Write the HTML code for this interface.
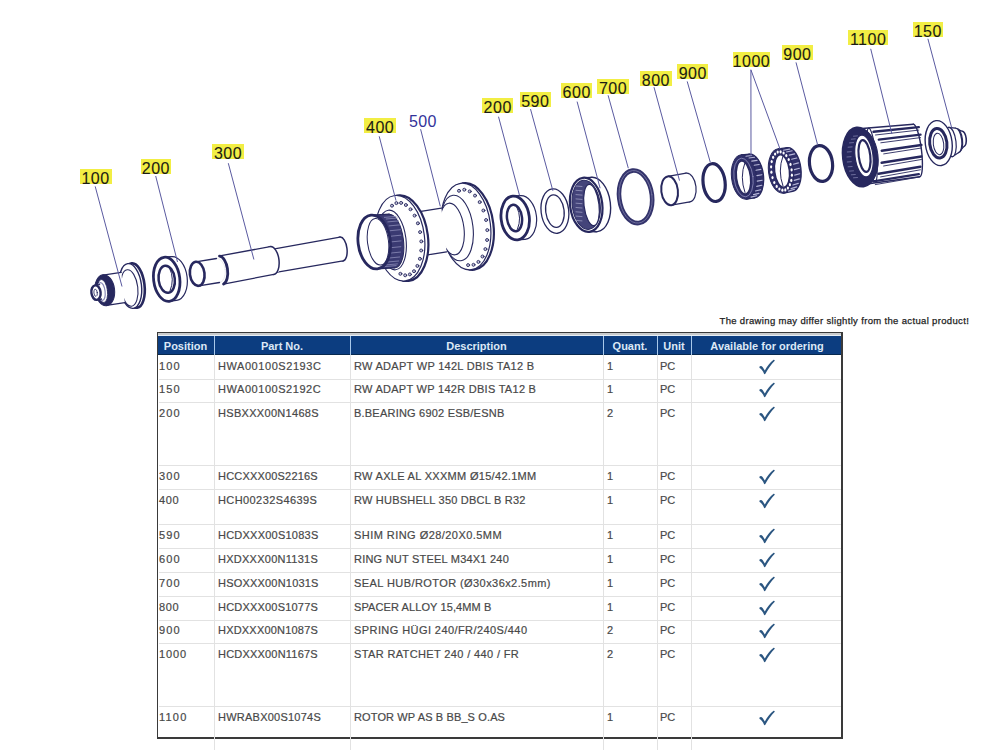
<!DOCTYPE html>
<html><head><meta charset="utf-8"><style>
html,body{margin:0;padding:0;background:#fff;}
body{width:992px;height:750px;position:relative;overflow:hidden;font-family:"Liberation Sans",sans-serif;}
.a{position:absolute;}
.t{position:absolute;font-size:11px;line-height:11px;color:#484848;white-space:nowrap;-webkit-text-stroke:0.2px #4a4a4a;}
.h{position:absolute;font-size:11px;line-height:11px;color:#dce8f6;font-weight:bold;white-space:nowrap;text-align:center;}
.ln{position:absolute;background:#e2e2e2;}
.lab{position:absolute;background:#f2ee44;font-size:16px;line-height:19px;color:#1c1c14;letter-spacing:0.5px;-webkit-text-stroke:0.1px #1c1c14;text-align:center;}
</style></head><body>

<div class="a" style="left:157px;top:332px;width:686px;height:407px;border:1px solid #3a3a3a;box-sizing:border-box;border-right-width:2px;border-bottom-width:2px"></div>
<div class="a" style="left:158px;top:333px;width:683px;height:2px;background:#c9cbcc"></div>
<div class="a" style="left:158px;top:335px;width:683px;height:1px;background:#e6eef6"></div>
<div class="a" style="left:158px;top:336px;width:683px;height:19px;background:#0c3d80;border-bottom:1px solid #07294f;box-sizing:border-box"></div>
<div class="a" style="left:214px;top:336px;width:1px;height:19px;background:#a8c8ea"></div>
<div class="ln" style="left:214px;top:355px;width:1px;height:395px;"></div>
<div class="a" style="left:350px;top:336px;width:1px;height:19px;background:#a8c8ea"></div>
<div class="ln" style="left:350px;top:355px;width:1px;height:395px;"></div>
<div class="a" style="left:603px;top:336px;width:1px;height:19px;background:#a8c8ea"></div>
<div class="ln" style="left:603px;top:355px;width:1px;height:395px;"></div>
<div class="a" style="left:657px;top:336px;width:1px;height:19px;background:#a8c8ea"></div>
<div class="ln" style="left:657px;top:355px;width:1px;height:395px;"></div>
<div class="a" style="left:691px;top:336px;width:1px;height:19px;background:#a8c8ea"></div>
<div class="ln" style="left:691px;top:355px;width:1px;height:395px;"></div>
<div class="ln" style="left:159px;top:379px;width:682px;height:1px;"></div>
<div class="ln" style="left:159px;top:402px;width:682px;height:1px;"></div>
<div class="ln" style="left:159px;top:465px;width:682px;height:1px;"></div>
<div class="ln" style="left:159px;top:489px;width:682px;height:1px;"></div>
<div class="ln" style="left:159px;top:524px;width:682px;height:1px;"></div>
<div class="ln" style="left:159px;top:548px;width:682px;height:1px;"></div>
<div class="ln" style="left:159px;top:572px;width:682px;height:1px;"></div>
<div class="ln" style="left:159px;top:596px;width:682px;height:1px;"></div>
<div class="ln" style="left:159px;top:620px;width:682px;height:1px;"></div>
<div class="ln" style="left:159px;top:643px;width:682px;height:1px;"></div>
<div class="ln" style="left:159px;top:706px;width:682px;height:1px;"></div>
<div class="h" style="left:157px;width:57px;top:341px">Position</div>
<div class="h" style="left:214px;width:136px;top:341px">Part No.</div>
<div class="h" style="left:350px;width:253px;top:341px">Description</div>
<div class="h" style="left:603px;width:54px;top:341px">Quant.</div>
<div class="h" style="left:657px;width:34px;top:341px">Unit</div>
<div class="h" style="left:691px;width:152px;top:341px">Available for ordering</div>
<div class="t" style="left:159px;top:361px;letter-spacing:1.15px">100</div>
<div class="t" style="left:218px;top:361px;letter-spacing:0.562px">HWA00100S2193C</div>
<div class="t" style="left:354px;top:361px;letter-spacing:0.289px">RW ADAPT WP 142L DBIS TA12 B</div>
<div class="t" style="left:607px;top:361px">1</div>
<div class="t" style="left:660px;top:361px">PC</div>
<svg class="a" style="left:759px;top:359px" width="18" height="17" viewBox="0 0 18 17"><path d="M0.6,7.5 C1.4,6.6 2.8,6.8 3.8,8.3 L5.8,11.6 C8.3,6.9 11.1,3.4 14.3,1.0 C15.2,0.4 16.2,1.3 15.5,2.1 C12.4,5.2 9.4,9.4 6.5,14.6 C6.1,15.3 5.2,15.3 4.9,14.6 C4,12.2 2.7,10.3 1.1,9.3 C0.4,8.9 0.2,8.1 0.6,7.5 Z" fill="#2b5681"/></svg>
<div class="t" style="left:159px;top:384px;letter-spacing:1.15px">150</div>
<div class="t" style="left:218px;top:384px;letter-spacing:0.546px">HWA00100S2192C</div>
<div class="t" style="left:354px;top:384px;letter-spacing:0.278px">RW ADAPT WP 142R DBIS TA12 B</div>
<div class="t" style="left:607px;top:384px">1</div>
<div class="t" style="left:660px;top:384px">PC</div>
<svg class="a" style="left:759px;top:382px" width="18" height="17" viewBox="0 0 18 17"><path d="M0.6,7.5 C1.4,6.6 2.8,6.8 3.8,8.3 L5.8,11.6 C8.3,6.9 11.1,3.4 14.3,1.0 C15.2,0.4 16.2,1.3 15.5,2.1 C12.4,5.2 9.4,9.4 6.5,14.6 C6.1,15.3 5.2,15.3 4.9,14.6 C4,12.2 2.7,10.3 1.1,9.3 C0.4,8.9 0.2,8.1 0.6,7.5 Z" fill="#2b5681"/></svg>
<div class="t" style="left:159px;top:408px;letter-spacing:1.15px">200</div>
<div class="t" style="left:218px;top:408px;letter-spacing:0.308px">HSBXXX00N1468S</div>
<div class="t" style="left:354px;top:408px;letter-spacing:0.214px">B.BEARING 6902 ESB/ESNB</div>
<div class="t" style="left:607px;top:408px">2</div>
<div class="t" style="left:660px;top:408px">PC</div>
<svg class="a" style="left:759px;top:406px" width="18" height="17" viewBox="0 0 18 17"><path d="M0.6,7.5 C1.4,6.6 2.8,6.8 3.8,8.3 L5.8,11.6 C8.3,6.9 11.1,3.4 14.3,1.0 C15.2,0.4 16.2,1.3 15.5,2.1 C12.4,5.2 9.4,9.4 6.5,14.6 C6.1,15.3 5.2,15.3 4.9,14.6 C4,12.2 2.7,10.3 1.1,9.3 C0.4,8.9 0.2,8.1 0.6,7.5 Z" fill="#2b5681"/></svg>
<div class="t" style="left:159px;top:471px;letter-spacing:1.15px">300</div>
<div class="t" style="left:218px;top:471px;letter-spacing:0.185px">HCCXXX00S2216S</div>
<div class="t" style="left:354px;top:471px;letter-spacing:0.308px">RW AXLE AL XXXMM &Oslash;15/42.1MM</div>
<div class="t" style="left:607px;top:471px">1</div>
<div class="t" style="left:660px;top:471px">PC</div>
<svg class="a" style="left:759px;top:469px" width="18" height="17" viewBox="0 0 18 17"><path d="M0.6,7.5 C1.4,6.6 2.8,6.8 3.8,8.3 L5.8,11.6 C8.3,6.9 11.1,3.4 14.3,1.0 C15.2,0.4 16.2,1.3 15.5,2.1 C12.4,5.2 9.4,9.4 6.5,14.6 C6.1,15.3 5.2,15.3 4.9,14.6 C4,12.2 2.7,10.3 1.1,9.3 C0.4,8.9 0.2,8.1 0.6,7.5 Z" fill="#2b5681"/></svg>
<div class="t" style="left:159px;top:495px;letter-spacing:0.65px">400</div>
<div class="t" style="left:218px;top:495px;letter-spacing:0.408px">HCH00232S4639S</div>
<div class="t" style="left:354px;top:495px;letter-spacing:0.22px">RW HUBSHELL 350 DBCL B R32</div>
<div class="t" style="left:607px;top:495px">1</div>
<div class="t" style="left:660px;top:495px">PC</div>
<svg class="a" style="left:759px;top:493px" width="18" height="17" viewBox="0 0 18 17"><path d="M0.6,7.5 C1.4,6.6 2.8,6.8 3.8,8.3 L5.8,11.6 C8.3,6.9 11.1,3.4 14.3,1.0 C15.2,0.4 16.2,1.3 15.5,2.1 C12.4,5.2 9.4,9.4 6.5,14.6 C6.1,15.3 5.2,15.3 4.9,14.6 C4,12.2 2.7,10.3 1.1,9.3 C0.4,8.9 0.2,8.1 0.6,7.5 Z" fill="#2b5681"/></svg>
<div class="t" style="left:159px;top:530px;letter-spacing:1.15px">590</div>
<div class="t" style="left:218px;top:530px;letter-spacing:0.231px">HCDXXX00S1083S</div>
<div class="t" style="left:354px;top:530px;letter-spacing:0.452px">SHIM RING &Oslash;28/20X0.5MM</div>
<div class="t" style="left:607px;top:530px">1</div>
<div class="t" style="left:660px;top:530px">PC</div>
<svg class="a" style="left:759px;top:528px" width="18" height="17" viewBox="0 0 18 17"><path d="M0.6,7.5 C1.4,6.6 2.8,6.8 3.8,8.3 L5.8,11.6 C8.3,6.9 11.1,3.4 14.3,1.0 C15.2,0.4 16.2,1.3 15.5,2.1 C12.4,5.2 9.4,9.4 6.5,14.6 C6.1,15.3 5.2,15.3 4.9,14.6 C4,12.2 2.7,10.3 1.1,9.3 C0.4,8.9 0.2,8.1 0.6,7.5 Z" fill="#2b5681"/></svg>
<div class="t" style="left:159px;top:554px;letter-spacing:1.15px">600</div>
<div class="t" style="left:218px;top:554px;letter-spacing:0.262px">HXDXXX00N1131S</div>
<div class="t" style="left:354px;top:554px;letter-spacing:0.217px">RING NUT STEEL M34X1 240</div>
<div class="t" style="left:607px;top:554px">1</div>
<div class="t" style="left:660px;top:554px">PC</div>
<svg class="a" style="left:759px;top:552px" width="18" height="17" viewBox="0 0 18 17"><path d="M0.6,7.5 C1.4,6.6 2.8,6.8 3.8,8.3 L5.8,11.6 C8.3,6.9 11.1,3.4 14.3,1.0 C15.2,0.4 16.2,1.3 15.5,2.1 C12.4,5.2 9.4,9.4 6.5,14.6 C6.1,15.3 5.2,15.3 4.9,14.6 C4,12.2 2.7,10.3 1.1,9.3 C0.4,8.9 0.2,8.1 0.6,7.5 Z" fill="#2b5681"/></svg>
<div class="t" style="left:159px;top:578px;letter-spacing:1.15px">700</div>
<div class="t" style="left:218px;top:578px;letter-spacing:0.2px">HSOXXX00N1031S</div>
<div class="t" style="left:354px;top:578px;letter-spacing:0.425px">SEAL HUB/ROTOR (&Oslash;30x36x2.5mm)</div>
<div class="t" style="left:607px;top:578px">1</div>
<div class="t" style="left:660px;top:578px">PC</div>
<svg class="a" style="left:759px;top:576px" width="18" height="17" viewBox="0 0 18 17"><path d="M0.6,7.5 C1.4,6.6 2.8,6.8 3.8,8.3 L5.8,11.6 C8.3,6.9 11.1,3.4 14.3,1.0 C15.2,0.4 16.2,1.3 15.5,2.1 C12.4,5.2 9.4,9.4 6.5,14.6 C6.1,15.3 5.2,15.3 4.9,14.6 C4,12.2 2.7,10.3 1.1,9.3 C0.4,8.9 0.2,8.1 0.6,7.5 Z" fill="#2b5681"/></svg>
<div class="t" style="left:159px;top:602px;letter-spacing:0.65px">800</div>
<div class="t" style="left:218px;top:602px;letter-spacing:0.2px">HCDXXX00S1077S</div>
<div class="t" style="left:354px;top:602px;letter-spacing:0.1px">SPACER ALLOY 15,4MM B</div>
<div class="t" style="left:607px;top:602px">1</div>
<div class="t" style="left:660px;top:602px">PC</div>
<svg class="a" style="left:759px;top:600px" width="18" height="17" viewBox="0 0 18 17"><path d="M0.6,7.5 C1.4,6.6 2.8,6.8 3.8,8.3 L5.8,11.6 C8.3,6.9 11.1,3.4 14.3,1.0 C15.2,0.4 16.2,1.3 15.5,2.1 C12.4,5.2 9.4,9.4 6.5,14.6 C6.1,15.3 5.2,15.3 4.9,14.6 C4,12.2 2.7,10.3 1.1,9.3 C0.4,8.9 0.2,8.1 0.6,7.5 Z" fill="#2b5681"/></svg>
<div class="t" style="left:159px;top:625px;letter-spacing:1.15px">900</div>
<div class="t" style="left:218px;top:625px;letter-spacing:0.2px">HXDXXX00N1087S</div>
<div class="t" style="left:354px;top:625px;letter-spacing:0.423px">SPRING H&Uuml;GI 240/FR/240S/440</div>
<div class="t" style="left:607px;top:625px">2</div>
<div class="t" style="left:660px;top:625px">PC</div>
<svg class="a" style="left:759px;top:623px" width="18" height="17" viewBox="0 0 18 17"><path d="M0.6,7.5 C1.4,6.6 2.8,6.8 3.8,8.3 L5.8,11.6 C8.3,6.9 11.1,3.4 14.3,1.0 C15.2,0.4 16.2,1.3 15.5,2.1 C12.4,5.2 9.4,9.4 6.5,14.6 C6.1,15.3 5.2,15.3 4.9,14.6 C4,12.2 2.7,10.3 1.1,9.3 C0.4,8.9 0.2,8.1 0.6,7.5 Z" fill="#2b5681"/></svg>
<div class="t" style="left:159px;top:649px;letter-spacing:0.867px">1000</div>
<div class="t" style="left:218px;top:649px;letter-spacing:0.2px">HCDXXX00N1167S</div>
<div class="t" style="left:354px;top:649px;letter-spacing:0.365px">STAR RATCHET 240 / 440 / FR</div>
<div class="t" style="left:607px;top:649px">2</div>
<div class="t" style="left:660px;top:649px">PC</div>
<svg class="a" style="left:759px;top:647px" width="18" height="17" viewBox="0 0 18 17"><path d="M0.6,7.5 C1.4,6.6 2.8,6.8 3.8,8.3 L5.8,11.6 C8.3,6.9 11.1,3.4 14.3,1.0 C15.2,0.4 16.2,1.3 15.5,2.1 C12.4,5.2 9.4,9.4 6.5,14.6 C6.1,15.3 5.2,15.3 4.9,14.6 C4,12.2 2.7,10.3 1.1,9.3 C0.4,8.9 0.2,8.1 0.6,7.5 Z" fill="#2b5681"/></svg>
<div class="t" style="left:159px;top:712px;letter-spacing:1.2px">1100</div>
<div class="t" style="left:218px;top:712px;letter-spacing:0.238px">HWRABX00S1074S</div>
<div class="t" style="left:354px;top:712px;letter-spacing:0.127px">ROTOR WP AS B BB_S O.AS</div>
<div class="t" style="left:607px;top:712px">1</div>
<div class="t" style="left:660px;top:712px">PC</div>
<svg class="a" style="left:759px;top:710px" width="18" height="17" viewBox="0 0 18 17"><path d="M0.6,7.5 C1.4,6.6 2.8,6.8 3.8,8.3 L5.8,11.6 C8.3,6.9 11.1,3.4 14.3,1.0 C15.2,0.4 16.2,1.3 15.5,2.1 C12.4,5.2 9.4,9.4 6.5,14.6 C6.1,15.3 5.2,15.3 4.9,14.6 C4,12.2 2.7,10.3 1.1,9.3 C0.4,8.9 0.2,8.1 0.6,7.5 Z" fill="#2b5681"/></svg>
<div class="a" style="left:719.5px;top:314.5px;font-size:9.5px;line-height:11px;color:#222;white-space:nowrap;letter-spacing:0.34px;-webkit-text-stroke:0.25px #222">The drawing may differ slightly from the actual product!</div>
<svg class="a" style="left:0;top:0" width="992" height="330" viewBox="0 0 992 330">
<g stroke-linecap="round">
<ellipse cx="134.5" cy="285.5" rx="10" ry="22.3" transform="rotate(-7 134.5 285.5)" fill="#fff" stroke="#27285e" stroke-width="2.6" />
<path d="M127.9,263.6 L132,263.3 L137,307.7 L133.1,308.4 Z" fill="#fff" stroke="none"/>
<path d="M127.9,263.6 L132,263.3 M133.1,308.4 L137,307.7" stroke="#27285e" stroke-width="1.2" fill="none"/>
<ellipse cx="130.5" cy="286" rx="11" ry="22.5" transform="rotate(-7 130.5 286)" fill="#fff" stroke="#27285e" stroke-width="1.4" />
<ellipse cx="129.4" cy="288" rx="8.4" ry="18.4" transform="rotate(-7 129.4 288)" fill="#fff" stroke="#27285e" stroke-width="1.1" />
<path d="M103,275.1 L121.2,272.4 L124.8,302.6 L106.6,305.3 Z" fill="#fff" stroke="none"/>
<path d="M103,275.1 L121.2,272.4 M106.6,305.3 L124.8,302.6" stroke="#27285e" stroke-width="1.2" fill="none"/>
<ellipse cx="104.8" cy="290.2" rx="9.8" ry="15.6" transform="rotate(-7 104.8 290.2)" fill="#27285e" stroke="#27285e" stroke-width="1" />
<ellipse cx="102.6" cy="291" rx="4.9" ry="11.6" transform="rotate(-7 102.6 291)" fill="#fff" stroke="#27285e" stroke-width="0.8" />
<ellipse cx="101.5" cy="291.5" rx="3.6" ry="9" transform="rotate(-7 101.5 291.5)" fill="none" stroke="#8a8ab8" stroke-width="1.2" />
<path d="M95.1,285.4 L99.6,284.6 L101.4,299 L96.9,299.8 Z" fill="#fff" stroke="none"/>
<path d="M95.1,285.4 L99.6,284.6 M96.9,299.8 L101.4,299" stroke="#27285e" stroke-width="1.3" fill="none"/>
<ellipse cx="96" cy="292.6" rx="4.6" ry="7.3" transform="rotate(-7 96 292.6)" fill="#fff" stroke="#27285e" stroke-width="2.4" />
<ellipse cx="95.6" cy="292.8" rx="1.7" ry="3.6" transform="rotate(-7 95.6 292.8)" fill="#fff" stroke="#27285e" stroke-width="0.8" />
<ellipse cx="174" cy="278.5" rx="13.2" ry="22" transform="rotate(-7 174 278.5)" fill="#fff" stroke="#27285e" stroke-width="1.2" />
<path d="M164.3,257.2 L171.7,256.6 L176.3,300.4 L169.1,301.4 Z" fill="#fff" stroke="none"/>
<path d="M164.3,257.2 L171.7,256.6 M169.1,301.4 L176.3,300.4" stroke="#27285e" stroke-width="1.2" fill="none"/>
<ellipse cx="166.7" cy="279.3" rx="13.1" ry="22.2" transform="rotate(-7 166.7 279.3)" fill="#fff" stroke="#27285e" stroke-width="2.8" />
<ellipse cx="166.7" cy="279.3" rx="8.1" ry="13.6" transform="rotate(-7 166.7 279.3)" fill="#fff" stroke="#27285e" stroke-width="2.5" />
<path d="M169.5,268 Q175,279 170,291" stroke="#27285e" stroke-width="1" fill="none"/>
<ellipse cx="341.5" cy="249" rx="5.5" ry="12" transform="rotate(-7 341.5 249)" fill="#fff" stroke="#27285e" stroke-width="1.5" />
<path d="M274.6,248.9 L340,237.1 L343,260.9 L277.4,272.1 Z" fill="#fff" stroke="none"/>
<path d="M274.6,248.9 L340,237.1 M277.4,272.1 L343,260.9" stroke="#27285e" stroke-width="1.3" fill="none"/>
<ellipse cx="276" cy="260.5" rx="5.5" ry="11.7" transform="rotate(-7 276 260.5)" fill="#fff" stroke="#27285e" stroke-width="0.01" />
<ellipse cx="272" cy="260.5" rx="7" ry="14" transform="rotate(-7 272 260.5)" fill="#fff" stroke="#27285e" stroke-width="1.5" />
<path d="M219.8,255.9 L270.2,246.6 L273.8,274.4 L223.4,284.1 Z" fill="#fff" stroke="none"/>
<path d="M219.8,255.9 L270.2,246.6 M223.4,284.1 L273.8,274.4" stroke="#27285e" stroke-width="1.3" fill="none"/>
<ellipse cx="221.6" cy="270" rx="7" ry="14.2" transform="rotate(-7 221.6 270)" fill="#fff" stroke="#27285e" stroke-width="0.01" />
<path d="M219.5,256.2 A7,14.2 -7 0 1 223.6,284" stroke="#27285e" stroke-width="2.8" fill="none"/>
<ellipse cx="218" cy="270.5" rx="7.3" ry="12.1" transform="rotate(-7 218 270.5)" fill="#fff" stroke="#27285e" stroke-width="0.1" />
<path d="M195.7,261.8 L216.5,258.5 L219.5,282.5 L198.7,285.8 Z" fill="#fff" stroke="none"/>
<path d="M195.7,261.8 L216.5,258.5 M198.7,285.8 L219.5,282.5" stroke="#27285e" stroke-width="1.3" fill="none"/>
<ellipse cx="197.2" cy="273.8" rx="7.3" ry="12.1" transform="rotate(-7 197.2 273.8)" fill="#fff" stroke="#27285e" stroke-width="2.6" />
<ellipse cx="469" cy="226.5" rx="24.5" ry="43.5" transform="rotate(-7 469 226.5)" fill="#fff" stroke="#27285e" stroke-width="2.2" />
<path d="M462.4,183.2 L465.4,183.2 L472.6,269.8 L469.6,269.8 Z" fill="#fff" stroke="none"/>
<path d="M462.4,183.2 L465.4,183.2 M469.6,269.8 L472.6,269.8" stroke="#27285e" stroke-width="1.2" fill="none"/>
<ellipse cx="466" cy="226.5" rx="24.5" ry="43.5" transform="rotate(-7 466 226.5)" fill="#fff" stroke="#27285e" stroke-width="1.2" />
<circle cx="459" cy="190.8" r="1.5" fill="#c4c4da" stroke="#27285e" stroke-width="0.9"/>
<circle cx="464.3" cy="189.7" r="1.5" fill="#c4c4da" stroke="#27285e" stroke-width="0.9"/>
<circle cx="469.7" cy="191.4" r="1.5" fill="#c4c4da" stroke="#27285e" stroke-width="0.9"/>
<circle cx="475" cy="195.6" r="1.5" fill="#c4c4da" stroke="#27285e" stroke-width="0.9"/>
<circle cx="479.7" cy="202.1" r="1.5" fill="#c4c4da" stroke="#27285e" stroke-width="0.9"/>
<circle cx="483.4" cy="210.5" r="1.5" fill="#c4c4da" stroke="#27285e" stroke-width="0.9"/>
<circle cx="486.1" cy="220" r="1.5" fill="#c4c4da" stroke="#27285e" stroke-width="0.9"/>
<circle cx="487.3" cy="230.1" r="1.5" fill="#c4c4da" stroke="#27285e" stroke-width="0.9"/>
<circle cx="487.1" cy="240" r="1.5" fill="#c4c4da" stroke="#27285e" stroke-width="0.9"/>
<circle cx="485.4" cy="249.1" r="1.5" fill="#c4c4da" stroke="#27285e" stroke-width="0.9"/>
<circle cx="482.5" cy="256.5" r="1.5" fill="#c4c4da" stroke="#27285e" stroke-width="0.9"/>
<circle cx="478.4" cy="261.9" r="1.5" fill="#c4c4da" stroke="#27285e" stroke-width="0.9"/>
<circle cx="473.5" cy="264.8" r="1.5" fill="#c4c4da" stroke="#27285e" stroke-width="0.9"/>
<circle cx="468.1" cy="265.1" r="1.5" fill="#c4c4da" stroke="#27285e" stroke-width="0.9"/>
<ellipse cx="457" cy="228" rx="16" ry="33" transform="rotate(-7 457 228)" fill="#fff" stroke="#27285e" stroke-width="1.1" />
<ellipse cx="452" cy="229" rx="12" ry="26" transform="rotate(-7 452 229)" fill="#fff" stroke="#27285e" stroke-width="1.1" />
<path d="M419.4,211.7 L441.4,208.2 L446.6,251.8 L424.6,255.3 Z" fill="#fff" stroke="none"/>
<path d="M419.4,211.7 L441.4,208.2 M424.6,255.3 L446.6,251.8" stroke="#27285e" stroke-width="1.2" fill="none"/>
<ellipse cx="403.5" cy="238.2" rx="24.5" ry="43" transform="rotate(-7 403.5 238.2)" fill="#fff" stroke="#27285e" stroke-width="2.2" />
<path d="M396.5,195.4 L400,195.4 L407,281 L403.5,281 Z" fill="#fff" stroke="none"/>
<path d="M396.5,195.4 L400,195.4 M403.5,281 L407,281" stroke="#27285e" stroke-width="1.2" fill="none"/>
<ellipse cx="400" cy="238.2" rx="24.5" ry="43" transform="rotate(-7 400 238.2)" fill="#fff" stroke="#27285e" stroke-width="1.2" />
<circle cx="392" cy="205.7" r="1.5" fill="#c4c4da" stroke="#27285e" stroke-width="0.9"/>
<circle cx="396.4" cy="203.1" r="1.5" fill="#c4c4da" stroke="#27285e" stroke-width="0.9"/>
<circle cx="401.1" cy="202.9" r="1.5" fill="#c4c4da" stroke="#27285e" stroke-width="0.9"/>
<circle cx="405.9" cy="205" r="1.5" fill="#c4c4da" stroke="#27285e" stroke-width="0.9"/>
<circle cx="410.5" cy="209.3" r="1.5" fill="#c4c4da" stroke="#27285e" stroke-width="0.9"/>
<circle cx="414.6" cy="215.6" r="1.5" fill="#c4c4da" stroke="#27285e" stroke-width="0.9"/>
<circle cx="417.9" cy="223.3" r="1.5" fill="#c4c4da" stroke="#27285e" stroke-width="0.9"/>
<circle cx="420.1" cy="232.1" r="1.5" fill="#c4c4da" stroke="#27285e" stroke-width="0.9"/>
<circle cx="421.3" cy="241.4" r="1.5" fill="#c4c4da" stroke="#27285e" stroke-width="0.9"/>
<circle cx="421.2" cy="250.5" r="1.5" fill="#c4c4da" stroke="#27285e" stroke-width="0.9"/>
<circle cx="419.9" cy="258.8" r="1.5" fill="#c4c4da" stroke="#27285e" stroke-width="0.9"/>
<circle cx="417.4" cy="265.9" r="1.5" fill="#c4c4da" stroke="#27285e" stroke-width="0.9"/>
<circle cx="414" cy="271.2" r="1.5" fill="#c4c4da" stroke="#27285e" stroke-width="0.9"/>
<circle cx="409.9" cy="274.4" r="1.5" fill="#c4c4da" stroke="#27285e" stroke-width="0.9"/>
<circle cx="405.2" cy="275.3" r="1.5" fill="#c4c4da" stroke="#27285e" stroke-width="0.9"/>
<circle cx="400.4" cy="273.8" r="1.5" fill="#c4c4da" stroke="#27285e" stroke-width="0.9"/>
<ellipse cx="392" cy="240" rx="14" ry="30" transform="rotate(-7 392 240)" fill="#fff" stroke="#27285e" stroke-width="1.1" />
<ellipse cx="392" cy="241" rx="11.5" ry="27" transform="rotate(-7 392 241)" fill="#3a3a72" stroke="#27285e" stroke-width="1" />
<path d="M371.9,215.1 L389.3,214.2 L394.7,267.8 L376.5,268.9 Z" fill="#3a3a72" stroke="none"/>
<path d="M371.9,215.1 L389.3,214.2 M376.5,268.9 L394.7,267.8" stroke="#27285e" stroke-width="1.2" fill="none"/>
<line x1="384.4" y1="217.4" x2="396.0" y2="216.4" stroke="#8c8cb8" stroke-width="0.8"/>
<line x1="386.2" y1="219.0" x2="397.4" y2="218.0" stroke="#8c8cb8" stroke-width="0.8"/>
<line x1="387.8" y1="221.9" x2="398.6" y2="220.9" stroke="#8c8cb8" stroke-width="0.8"/>
<line x1="389.1" y1="225.9" x2="399.6" y2="224.9" stroke="#8c8cb8" stroke-width="0.8"/>
<line x1="390.1" y1="230.7" x2="400.4" y2="229.7" stroke="#8c8cb8" stroke-width="0.8"/>
<line x1="390.8" y1="236.2" x2="400.8" y2="235.2" stroke="#8c8cb8" stroke-width="0.8"/>
<line x1="391.0" y1="241.9" x2="401.0" y2="240.9" stroke="#8c8cb8" stroke-width="0.8"/>
<line x1="390.8" y1="247.7" x2="400.8" y2="246.7" stroke="#8c8cb8" stroke-width="0.8"/>
<line x1="390.2" y1="253.1" x2="400.4" y2="252.1" stroke="#8c8cb8" stroke-width="0.8"/>
<line x1="389.2" y1="258.0" x2="399.6" y2="257.0" stroke="#8c8cb8" stroke-width="0.8"/>
<line x1="387.8" y1="262.0" x2="398.6" y2="261.0" stroke="#8c8cb8" stroke-width="0.8"/>
<line x1="386.2" y1="264.9" x2="397.4" y2="263.9" stroke="#8c8cb8" stroke-width="0.8"/>
<line x1="384.4" y1="266.6" x2="396.1" y2="265.6" stroke="#8c8cb8" stroke-width="0.8"/>
<ellipse cx="374.2" cy="242" rx="16.1" ry="27" transform="rotate(-7 374.2 242)" fill="#fff" stroke="#27285e" stroke-width="2.8" />
<ellipse cx="378" cy="241.8" rx="10.5" ry="23.4" transform="rotate(-7 378 241.8)" fill="#fff" stroke="#27285e" stroke-width="1" />
<ellipse cx="522.5" cy="217.5" rx="14" ry="22" transform="rotate(-7 522.5 217.5)" fill="#fff" stroke="#27285e" stroke-width="1.2" />
<path d="M513.3,196.1 L520.5,195.6 L524.5,239.4 L517.1,239.9 Z" fill="#fff" stroke="none"/>
<path d="M513.3,196.1 L520.5,195.6 M517.1,239.9 L524.5,239.4" stroke="#27285e" stroke-width="1.2" fill="none"/>
<ellipse cx="515.2" cy="218" rx="14.1" ry="22" transform="rotate(-7 515.2 218)" fill="#fff" stroke="#27285e" stroke-width="2.8" />
<ellipse cx="514.5" cy="218" rx="7.5" ry="13.4" transform="rotate(-7 514.5 218)" fill="#fff" stroke="#27285e" stroke-width="2.5" />
<path d="M517,207.5 Q522,218 517.5,229" stroke="#27285e" stroke-width="1" fill="none"/>
<ellipse cx="554.9" cy="211.1" rx="13.8" ry="22.3" transform="rotate(-7 554.9 211.1)" fill="#fff" stroke="#27285e" stroke-width="1.3" />
<ellipse cx="554.9" cy="211.1" rx="9.2" ry="16.4" transform="rotate(-7 554.9 211.1)" fill="#fff" stroke="#27285e" stroke-width="1.3" />
<ellipse cx="594.2" cy="204.5" rx="16.2" ry="27.3" transform="rotate(-7 594.2 204.5)" fill="#fff" stroke="#27285e" stroke-width="1.4" />
<path d="M584,177.7 L592,177.3 L596.4,231.7 L588.4,231.9 Z" fill="#fff" stroke="none"/>
<path d="M584,177.7 L592,177.3 M588.4,231.9 L596.4,231.7" stroke="#27285e" stroke-width="1.2" fill="none"/>
<ellipse cx="586.2" cy="204.8" rx="16.1" ry="27.2" transform="rotate(-7 586.2 204.8)" fill="#fff" stroke="#27285e" stroke-width="2.2" />
<ellipse cx="586.2" cy="204.8" rx="14" ry="24.7" transform="rotate(-7 586.2 204.8)" fill="#44447a" stroke="#27285e" stroke-width="1" />
<ellipse cx="591.5" cy="205" rx="7.5" ry="20.8" transform="rotate(-7 591.5 205)" fill="#fff" stroke="#27285e" stroke-width="1.2" />
<line x1="576" y1="186.0" x2="582" y2="186.5" stroke="#9a9ac0" stroke-width="0.8"/>
<line x1="576" y1="190.3" x2="582" y2="190.8" stroke="#9a9ac0" stroke-width="0.8"/>
<line x1="576" y1="194.6" x2="582" y2="195.1" stroke="#9a9ac0" stroke-width="0.8"/>
<line x1="576" y1="198.9" x2="582" y2="199.4" stroke="#9a9ac0" stroke-width="0.8"/>
<line x1="576" y1="203.2" x2="582" y2="203.7" stroke="#9a9ac0" stroke-width="0.8"/>
<line x1="576" y1="207.5" x2="582" y2="208.0" stroke="#9a9ac0" stroke-width="0.8"/>
<line x1="576" y1="211.8" x2="582" y2="212.3" stroke="#9a9ac0" stroke-width="0.8"/>
<line x1="576" y1="216.1" x2="582" y2="216.6" stroke="#9a9ac0" stroke-width="0.8"/>
<line x1="576" y1="220.4" x2="582" y2="220.9" stroke="#9a9ac0" stroke-width="0.8"/>
<ellipse cx="635.6" cy="196.8" rx="16.4" ry="26.4" transform="rotate(-7 635.6 196.8)" fill="#fff" stroke="#34346c" stroke-width="4.6" />
<ellipse cx="635.6" cy="196.8" rx="16.4" ry="26.4" transform="rotate(-7 635.6 196.8)" fill="none" stroke="#7a7aa6" stroke-width="0.8" />
<ellipse cx="688" cy="187.5" rx="8" ry="14.5" transform="rotate(-7 688 187.5)" fill="#fff" stroke="#27285e" stroke-width="1.2" />
<path d="M667.8,176.4 L686.2,173.1 L689.8,201.9 L671.4,205.2 Z" fill="#fff" stroke="none"/>
<path d="M667.8,176.4 L686.2,173.1 M671.4,205.2 L689.8,201.9" stroke="#27285e" stroke-width="1.2" fill="none"/>
<ellipse cx="669.6" cy="190.8" rx="8.3" ry="14.5" transform="rotate(-7 669.6 190.8)" fill="#fff" stroke="#27285e" stroke-width="2" />
<ellipse cx="714.1" cy="182.6" rx="11" ry="19" transform="rotate(-7 714.1 182.6)" fill="#fff" stroke="#27285e" stroke-width="3.2" />
<ellipse cx="752" cy="176" rx="11.5" ry="22" transform="rotate(-7 752 176)" fill="#30306a" stroke="#27285e" stroke-width="1.2" />
<path d="M741.5,154.8 L749.5,154.1 L754.5,197.9 L746.5,199.2 Z" fill="#30306a" stroke="none"/>
<path d="M741.5,154.8 L749.5,154.1 M746.5,199.2 L754.5,197.9" stroke="#27285e" stroke-width="1.2" fill="none"/>
<ellipse cx="744" cy="177" rx="12.5" ry="22.3" transform="rotate(-7 744 177)" fill="#30306a" stroke="#27285e" stroke-width="1" />
<line x1="745.9" y1="156.2" x2="751.7" y2="155.5" stroke="#b8b8d8" stroke-width="1.1"/>
<line x1="749.0" y1="158.0" x2="754.5" y2="157.3" stroke="#b8b8d8" stroke-width="1.1"/>
<line x1="751.7" y1="161.1" x2="757.1" y2="160.4" stroke="#b8b8d8" stroke-width="1.1"/>
<line x1="754.1" y1="165.2" x2="759.2" y2="164.5" stroke="#b8b8d8" stroke-width="1.1"/>
<line x1="755.9" y1="170.2" x2="760.9" y2="169.4" stroke="#b8b8d8" stroke-width="1.1"/>
<line x1="756.9" y1="175.6" x2="761.9" y2="174.7" stroke="#b8b8d8" stroke-width="1.1"/>
<line x1="757.2" y1="181.1" x2="762.2" y2="180.2" stroke="#b8b8d8" stroke-width="1.1"/>
<line x1="756.7" y1="186.4" x2="761.8" y2="185.3" stroke="#b8b8d8" stroke-width="1.1"/>
<line x1="755.4" y1="191.0" x2="760.7" y2="189.8" stroke="#b8b8d8" stroke-width="1.1"/>
<line x1="753.5" y1="194.6" x2="758.9" y2="193.4" stroke="#b8b8d8" stroke-width="1.1"/>
<line x1="751.0" y1="197.1" x2="756.7" y2="195.8" stroke="#b8b8d8" stroke-width="1.1"/>
<ellipse cx="743.5" cy="177.5" rx="9.5" ry="19.5" transform="rotate(-7 743.5 177.5)" fill="none" stroke="#8a8ab8" stroke-width="0.8" />
<ellipse cx="743.5" cy="177.5" rx="7" ry="16.5" transform="rotate(-7 743.5 177.5)" fill="#fff" stroke="#27285e" stroke-width="1.4" />
<path d="M745,162.5 Q739.5,177 745,192.5" stroke="#27285e" stroke-width="1" fill="none"/>
<ellipse cx="790" cy="169.5" rx="11" ry="22" transform="rotate(-7 790 169.5)" fill="#30306a" stroke="#27285e" stroke-width="1.2" />
<path d="M778.3,148.9 L787.3,147.7 L792.7,191.3 L783.7,193.1 Z" fill="#30306a" stroke="none"/>
<path d="M778.3,148.9 L787.3,147.7 M783.7,193.1 L792.7,191.3" stroke="#27285e" stroke-width="1.2" fill="none"/>
<ellipse cx="781" cy="171" rx="12.5" ry="22.3" transform="rotate(-7 781 171)" fill="#30306a" stroke="#27285e" stroke-width="1" />
<line x1="783.4" y1="150.2" x2="789.6" y2="149.1" stroke="#b8b8d8" stroke-width="1.1"/>
<line x1="786.5" y1="152.0" x2="792.2" y2="150.8" stroke="#b8b8d8" stroke-width="1.1"/>
<line x1="789.2" y1="155.1" x2="794.7" y2="153.9" stroke="#b8b8d8" stroke-width="1.1"/>
<line x1="791.6" y1="159.2" x2="796.8" y2="158.0" stroke="#b8b8d8" stroke-width="1.1"/>
<line x1="793.4" y1="164.2" x2="798.4" y2="162.9" stroke="#b8b8d8" stroke-width="1.1"/>
<line x1="794.4" y1="169.6" x2="799.4" y2="168.3" stroke="#b8b8d8" stroke-width="1.1"/>
<line x1="794.7" y1="175.1" x2="799.7" y2="173.7" stroke="#b8b8d8" stroke-width="1.1"/>
<line x1="794.2" y1="180.4" x2="799.4" y2="178.9" stroke="#b8b8d8" stroke-width="1.1"/>
<line x1="792.9" y1="185.0" x2="798.3" y2="183.4" stroke="#b8b8d8" stroke-width="1.1"/>
<line x1="791.0" y1="188.6" x2="796.7" y2="186.9" stroke="#b8b8d8" stroke-width="1.1"/>
<line x1="788.5" y1="191.1" x2="794.5" y2="189.3" stroke="#b8b8d8" stroke-width="1.1"/>
<ellipse cx="791.6" cy="169.8" rx="1.1" ry="1.6" fill="#fff"/>
<ellipse cx="791.9" cy="175.2" rx="1.1" ry="1.6" fill="#fff"/>
<ellipse cx="791.3" cy="180.4" rx="1.1" ry="1.6" fill="#fff"/>
<ellipse cx="789.9" cy="184.7" rx="1.1" ry="1.6" fill="#fff"/>
<ellipse cx="787.9" cy="188.0" rx="1.1" ry="1.6" fill="#fff"/>
<ellipse cx="785.3" cy="189.9" rx="1.1" ry="1.6" fill="#fff"/>
<ellipse cx="782.4" cy="190.2" rx="1.1" ry="1.6" fill="#fff"/>
<ellipse cx="779.4" cy="189.0" rx="1.1" ry="1.6" fill="#fff"/>
<ellipse cx="776.7" cy="186.4" rx="1.1" ry="1.6" fill="#fff"/>
<ellipse cx="774.3" cy="182.5" rx="1.1" ry="1.6" fill="#fff"/>
<ellipse cx="772.5" cy="177.6" rx="1.1" ry="1.6" fill="#fff"/>
<ellipse cx="771.4" cy="172.2" rx="1.1" ry="1.6" fill="#fff"/>
<ellipse cx="771.1" cy="166.8" rx="1.1" ry="1.6" fill="#fff"/>
<ellipse cx="771.7" cy="161.6" rx="1.1" ry="1.6" fill="#fff"/>
<ellipse cx="773.1" cy="157.3" rx="1.1" ry="1.6" fill="#fff"/>
<ellipse cx="775.1" cy="154.0" rx="1.1" ry="1.6" fill="#fff"/>
<ellipse cx="777.7" cy="152.1" rx="1.1" ry="1.6" fill="#fff"/>
<ellipse cx="780.6" cy="151.8" rx="1.1" ry="1.6" fill="#fff"/>
<ellipse cx="783.6" cy="153.0" rx="1.1" ry="1.6" fill="#fff"/>
<ellipse cx="786.3" cy="155.6" rx="1.1" ry="1.6" fill="#fff"/>
<ellipse cx="788.7" cy="159.5" rx="1.1" ry="1.6" fill="#fff"/>
<ellipse cx="790.5" cy="164.4" rx="1.1" ry="1.6" fill="#fff"/>
<ellipse cx="782" cy="171" rx="7.3" ry="16.3" transform="rotate(-7 782 171)" fill="#fff" stroke="#27285e" stroke-width="1.3" />
<path d="M783,156 Q777.5,171 783,186" stroke="#27285e" stroke-width="1" fill="none"/>
<ellipse cx="821" cy="163.5" rx="11.5" ry="18" transform="rotate(-7 821 163.5)" fill="#fff" stroke="#27285e" stroke-width="3.2" />
<ellipse cx="916.5" cy="150.5" rx="5" ry="26.5" transform="rotate(-7 916.5 150.5)" fill="#fff" stroke="#27285e" stroke-width="1.4" />
<path d="M859,128.7 L913.4,124.2 L919.6,176.8 L865,184.3 Z" fill="#fff" stroke="none"/>
<path d="M859,128.7 L913.4,124.2 M865,184.3 L919.6,176.8" stroke="#27285e" stroke-width="1.5" fill="none"/>
<ellipse cx="862" cy="156.5" rx="16" ry="28" transform="rotate(-7 862 156.5)" fill="#fff" stroke="#27285e" stroke-width="1" />
<line x1="873.5" y1="131.8" x2="918.8" y2="127.1" stroke="#27285e" stroke-width="2.4"/>
<line x1="875.5" y1="135" x2="918.8" y2="130.1" stroke="#27285e" stroke-width="0.9"/>
<line x1="878.8" y1="139.6" x2="920.5" y2="134.6" stroke="#27285e" stroke-width="2.4"/>
<line x1="880.8" y1="142.8" x2="920.5" y2="137.6" stroke="#27285e" stroke-width="0.9"/>
<line x1="881.7" y1="150.7" x2="921.4" y2="145" stroke="#27285e" stroke-width="2.4"/>
<line x1="883.7" y1="153.9" x2="921.4" y2="148" stroke="#27285e" stroke-width="0.9"/>
<line x1="881.6" y1="162.8" x2="921.4" y2="156.5" stroke="#27285e" stroke-width="2.4"/>
<line x1="883.6" y1="166" x2="921.4" y2="159.5" stroke="#27285e" stroke-width="0.9"/>
<line x1="878.6" y1="173.7" x2="920.4" y2="166.8" stroke="#27285e" stroke-width="2.4"/>
<line x1="880.6" y1="176.9" x2="920.4" y2="169.8" stroke="#27285e" stroke-width="0.9"/>
<line x1="873.3" y1="181.4" x2="918.8" y2="174.1" stroke="#27285e" stroke-width="2.4"/>
<line x1="875.3" y1="184.6" x2="918.8" y2="177.1" stroke="#27285e" stroke-width="0.9"/>
<ellipse cx="872" cy="155" rx="4" ry="27" transform="rotate(-7 872 155)" fill="none" stroke="#27285e" stroke-width="1.2" />
<ellipse cx="860" cy="157" rx="17.3" ry="30" transform="rotate(-7 860 157)" fill="#27285e" stroke="#27285e" stroke-width="1.5" />
<line x1="853.5" y1="177.8" x2="857.5" y2="177.5" stroke="#8a8ab4" stroke-width="0.7"/>
<line x1="851.3" y1="174.8" x2="855.3" y2="174.5" stroke="#8a8ab4" stroke-width="0.7"/>
<line x1="849.5" y1="171.1" x2="853.5" y2="170.8" stroke="#8a8ab4" stroke-width="0.7"/>
<line x1="848.1" y1="166.8" x2="852.1" y2="166.5" stroke="#8a8ab4" stroke-width="0.7"/>
<line x1="847.3" y1="162.0" x2="851.3" y2="161.7" stroke="#8a8ab4" stroke-width="0.7"/>
<line x1="847.0" y1="157.0" x2="851.0" y2="156.7" stroke="#8a8ab4" stroke-width="0.7"/>
<line x1="847.3" y1="152.0" x2="851.3" y2="151.7" stroke="#8a8ab4" stroke-width="0.7"/>
<line x1="848.1" y1="147.2" x2="852.1" y2="146.9" stroke="#8a8ab4" stroke-width="0.7"/>
<line x1="849.5" y1="142.9" x2="853.5" y2="142.6" stroke="#8a8ab4" stroke-width="0.7"/>
<line x1="851.3" y1="139.2" x2="855.3" y2="138.9" stroke="#8a8ab4" stroke-width="0.7"/>
<line x1="853.5" y1="136.2" x2="857.5" y2="135.9" stroke="#8a8ab4" stroke-width="0.7"/>
<ellipse cx="864" cy="156" rx="9" ry="21" transform="rotate(-7 864 156)" fill="#fff" stroke="#27285e" stroke-width="1.2" />
<ellipse cx="864.5" cy="156" rx="5.8" ry="16" transform="rotate(-7 864.5 156)" fill="#fff" stroke="#27285e" stroke-width="2.2" />
<ellipse cx="963" cy="138.8" rx="3.2" ry="7.6" transform="rotate(-7 963 138.8)" fill="#fff" stroke="#27285e" stroke-width="1.6" />
<path d="M956.5,128.6 L962,131.3 L964,146.3 L959.5,151.4 Z" fill="#fff" stroke="none"/>
<path d="M956.5,128.6 L962,131.3 M959.5,151.4 L964,146.3" stroke="#27285e" stroke-width="1.2" fill="none"/>
<ellipse cx="958" cy="140" rx="4.5" ry="11.5" transform="rotate(-7 958 140)" fill="#fff" stroke="#27285e" stroke-width="1.2" />
<ellipse cx="957" cy="140.3" rx="4.8" ry="12.3" transform="rotate(-7 957 140.3)" fill="#fff" stroke="#27285e" stroke-width="1.4" />
<path d="M948.6,127.3 L955.3,128.1 L958.7,152.5 L952.4,156.7 Z" fill="#fff" stroke="none"/>
<path d="M948.6,127.3 L955.3,128.1 M952.4,156.7 L958.7,152.5" stroke="#27285e" stroke-width="1.2" fill="none"/>
<ellipse cx="950.5" cy="142" rx="5.5" ry="14.8" transform="rotate(-7 950.5 142)" fill="#fff" stroke="#27285e" stroke-width="1.2" />
<ellipse cx="938.7" cy="143.1" rx="13.4" ry="22.6" transform="rotate(-7 938.7 143.1)" fill="#fff" stroke="#27285e" stroke-width="1.4" />
<ellipse cx="938.3" cy="143.2" rx="8.6" ry="14.8" transform="rotate(-7 938.3 143.2)" fill="#fff" stroke="#27285e" stroke-width="3" />
<ellipse cx="938.5" cy="144" rx="5.2" ry="10.8" transform="rotate(-7 938.5 144)" fill="#fff" stroke="#27285e" stroke-width="1" />
</g>
<line x1="95.2" y1="186.4" x2="122" y2="286.5" stroke="#5a5aa0" stroke-width="1"/>
<line x1="155.7" y1="176" x2="177.5" y2="262" stroke="#5a5aa0" stroke-width="1"/>
<line x1="228.3" y1="163.2" x2="253.9" y2="259.5" stroke="#5a5aa0" stroke-width="1"/>
<line x1="379.2" y1="136.3" x2="396" y2="200.6" stroke="#5a5aa0" stroke-width="1"/>
<line x1="420.6" y1="129.2" x2="440.3" y2="206.3" stroke="#5a5aa0" stroke-width="1"/>
<line x1="498.5" y1="116.7" x2="519.5" y2="195.4" stroke="#5a5aa0" stroke-width="1"/>
<line x1="530.5" y1="109.1" x2="552.9" y2="190.8" stroke="#5a5aa0" stroke-width="1"/>
<line x1="577.1" y1="101.6" x2="600.1" y2="188.2" stroke="#5a5aa0" stroke-width="1"/>
<line x1="608.1" y1="95.3" x2="628.3" y2="168.2" stroke="#5a5aa0" stroke-width="1"/>
<line x1="654" y1="87.2" x2="679.5" y2="180.6" stroke="#5a5aa0" stroke-width="1"/>
<line x1="687.2" y1="81.4" x2="710.3" y2="162.3" stroke="#5a5aa0" stroke-width="1"/>
<line x1="750.9" y1="69.8" x2="751" y2="156" stroke="#5a5aa0" stroke-width="1"/>
<line x1="750.9" y1="69.8" x2="780" y2="149" stroke="#5a5aa0" stroke-width="1"/>
<line x1="796" y1="62.4" x2="817.4" y2="144" stroke="#5a5aa0" stroke-width="1"/>
<line x1="870.7" y1="48.8" x2="891.9" y2="133.9" stroke="#5a5aa0" stroke-width="1"/>
<line x1="927.9" y1="38.8" x2="951.6" y2="127.5" stroke="#5a5aa0" stroke-width="1"/>
</svg>
<div class="lab" style="left:79.5px;top:168.7px;width:32.0px;height:15px">100</div>
<div class="lab" style="left:140.6px;top:159.2px;width:30.5px;height:15px">200</div>
<div class="lab" style="left:212.3px;top:144.2px;width:31.5px;height:15px">300</div>
<div class="lab" style="left:364.1px;top:117.7px;width:32.0px;height:15px">400</div>
<div class="lab" style="left:482.1px;top:97.8px;width:31.2px;height:15px">200</div>
<div class="lab" style="left:519.9px;top:91.5px;width:30.7px;height:15px">590</div>
<div class="lab" style="left:561.2px;top:82.7px;width:31.0px;height:15px">600</div>
<div class="lab" style="left:597.3px;top:78.9px;width:31.5px;height:15px">700</div>
<div class="lab" style="left:640.1px;top:71.3px;width:31.5px;height:15px">800</div>
<div class="lab" style="left:677.4px;top:63.8px;width:30.8px;height:15px">900</div>
<div class="lab" style="left:732.6px;top:51.9px;width:37.2px;height:15px">1000</div>
<div class="lab" style="left:781.6px;top:44.9px;width:31.5px;height:15px">900</div>
<div class="lab" style="left:848.4px;top:30.4px;width:39.4px;height:15px">1100</div>
<div class="lab" style="left:912.7px;top:21.8px;width:30.1px;height:15px">150</div>
<div class="a" style="left:409px;top:114px;font-size:16px;line-height:16px;color:#33339a;letter-spacing:0.3px">500</div>
</body></html>
